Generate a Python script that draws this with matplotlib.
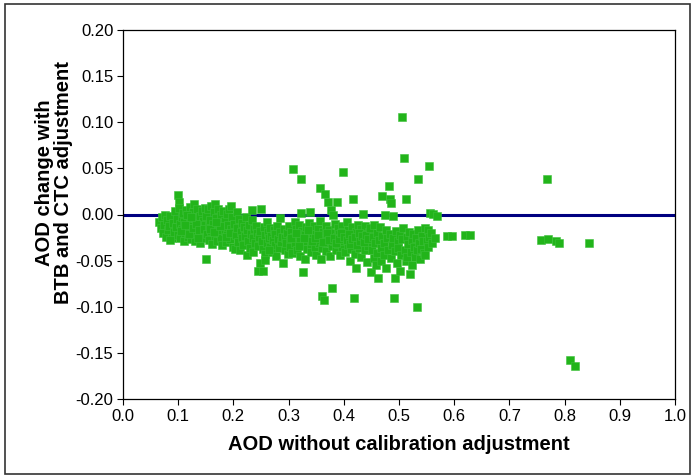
import matplotlib
matplotlib.use("Agg")
import matplotlib.pyplot as plt
from matplotlib.patches import Rectangle

plt.rcParams['font.family'] = ['Liberation Sans', 'DejaVu Sans']

# Dense cluster, low AOD (0.065 - 0.20)
aod_low = [0.066, 0.068, 0.070, 0.072, 0.074, 0.076, 0.078, 0.080, 0.082, 0.084, 0.086, 0.088,
           0.090, 0.092, 0.094, 0.096, 0.098, 0.099, 0.085,
           0.100, 0.101, 0.102, 0.103, 0.104, 0.106, 0.107, 0.108, 0.110, 0.111, 0.112, 0.114,
           0.115, 0.117, 0.118, 0.120, 0.121, 0.122, 0.124, 0.125, 0.127, 0.128, 0.129, 0.130,
           0.131, 0.133, 0.134, 0.136, 0.137, 0.139, 0.140, 0.141, 0.143, 0.144, 0.145, 0.147,
           0.148, 0.149, 0.150, 0.105, 0.113, 0.119, 0.126, 0.132, 0.138, 0.146, 0.116, 0.123, 0.135,
           0.151, 0.152, 0.154, 0.155, 0.156, 0.158, 0.159, 0.160, 0.162, 0.163, 0.164, 0.166,
           0.167, 0.168, 0.170, 0.171, 0.173, 0.174, 0.175, 0.177, 0.178, 0.180, 0.181, 0.182,
           0.184, 0.185, 0.187, 0.188, 0.189, 0.191, 0.192, 0.194, 0.195, 0.196, 0.198, 0.199,
           0.157, 0.165, 0.176, 0.186, 0.193, 0.169]
chg_low = [-0.008, -0.015, -0.003, -0.020, -0.011, 0.000, -0.024, -0.006, -0.017, -0.012, -0.002, -0.026,
           -0.009, -0.019, 0.004, -0.014, -0.005, -0.022, -0.028,
           0.021, 0.014, 0.007, -0.010, -0.025, -0.003, -0.016, 0.002, -0.029, -0.008, -0.020, 0.005,
           -0.013, -0.024, -0.001, -0.017, 0.008, -0.007, -0.027, -0.012, 0.003, -0.020, 0.011, -0.004,
           -0.029, -0.015, 0.006, -0.009, -0.022, -0.002, -0.031, -0.014, 0.004, -0.019, -0.007, -0.025,
           0.007, -0.011, -0.048, -0.018, -0.011, -0.021, -0.015, -0.010, -0.017, -0.016, 0.000, -0.003, -0.026,
           -0.002, -0.021, 0.006, -0.013, -0.028, -0.006, 0.009, -0.018, -0.032, -0.010, 0.003, -0.023,
           0.011, -0.004, -0.015, -0.029, 0.006, -0.009, -0.020, -0.001, -0.026, -0.033, -0.012, 0.004,
           -0.018, -0.007, -0.030, 0.001, -0.022, -0.011, 0.006, -0.027, -0.016, 0.009, -0.003, -0.035,
           -0.016, -0.019, -0.013, -0.024, -0.020, -0.008]

# Cluster, AOD 0.20 - 0.30
aod_mid = [0.201, 0.203, 0.204, 0.206, 0.207, 0.209, 0.210, 0.212, 0.213, 0.215, 0.216, 0.218,
           0.219, 0.221, 0.222, 0.224, 0.225, 0.227, 0.228, 0.230, 0.231, 0.233, 0.234, 0.235,
           0.236, 0.238, 0.239, 0.241, 0.242, 0.244, 0.245, 0.246, 0.248, 0.249, 0.250, 0.252,
           0.253, 0.254, 0.255, 0.257, 0.258, 0.260, 0.261, 0.263, 0.264, 0.266, 0.267, 0.269,
           0.270, 0.272, 0.273, 0.275, 0.276, 0.278, 0.279, 0.281, 0.282, 0.284, 0.285, 0.287,
           0.288, 0.290, 0.291, 0.293, 0.294, 0.296, 0.297, 0.299, 0.257, 0.265]
chg_mid = [-0.010, -0.037, -0.022, 0.003, -0.015, -0.030, -0.005, -0.038, -0.019, -0.026, -0.009, -0.033,
           -0.014, -0.023, -0.003, -0.044, -0.017, -0.029, -0.011, -0.036, -0.021, -0.006, 0.005, -0.041,
           -0.025, -0.016, -0.031, -0.012, -0.020, -0.034, -0.061, -0.024, -0.053, -0.018, 0.006, -0.029,
           -0.037, -0.061, -0.014, -0.022, -0.043, -0.008, -0.031, -0.019, -0.026, -0.035, -0.015, -0.023,
           -0.041, -0.028, -0.017, -0.033, -0.021, -0.045, -0.012, -0.027, -0.036, -0.004, -0.019, -0.030,
           -0.024, -0.053, -0.016, -0.038, -0.025, -0.031, -0.020, -0.043, -0.049, -0.039]

# Cluster, AOD 0.30 - 0.45
aod_high = [0.300, 0.302, 0.303, 0.305, 0.306, 0.308, 0.309, 0.311, 0.312, 0.314, 0.315, 0.317,
            0.318, 0.320, 0.321, 0.322, 0.323, 0.324, 0.326, 0.327, 0.329, 0.330, 0.331, 0.333,
            0.334, 0.336, 0.337, 0.339, 0.340, 0.341, 0.343, 0.344, 0.346, 0.347, 0.349, 0.350,
            0.352, 0.353, 0.355, 0.356, 0.357, 0.358, 0.359, 0.360, 0.361, 0.362, 0.364, 0.365,
            0.366, 0.367, 0.368, 0.370, 0.371, 0.372, 0.373, 0.375, 0.376, 0.377, 0.378, 0.379,
            0.380, 0.381, 0.383, 0.384, 0.386, 0.387, 0.388, 0.389, 0.390, 0.392, 0.393, 0.394,
            0.396, 0.397, 0.398, 0.399, 0.401, 0.402, 0.404, 0.405, 0.407, 0.408, 0.410, 0.411,
            0.413, 0.414, 0.416, 0.417, 0.418, 0.419, 0.420, 0.422, 0.423, 0.425, 0.426, 0.428,
            0.429, 0.431, 0.432, 0.434, 0.435, 0.436, 0.438, 0.439, 0.441, 0.442, 0.444, 0.445, 0.447,
            0.304, 0.313, 0.319, 0.328, 0.335, 0.342, 0.348, 0.354, 0.363, 0.369, 0.374, 0.382,
            0.385, 0.391, 0.395, 0.400, 0.406, 0.409, 0.412, 0.415, 0.421, 0.424, 0.427, 0.430,
            0.433, 0.437, 0.440, 0.443]
chg_high = [-0.012, -0.028, -0.035, -0.019, -0.042, 0.049, -0.024, -0.008, -0.031, -0.016, -0.039, -0.022,
            -0.011, -0.027, -0.045, 0.039, 0.002, -0.018, -0.062, -0.033, -0.021, -0.048, -0.014, -0.029,
            -0.037, -0.023, -0.009, 0.003, -0.032, -0.041, -0.018, -0.026, -0.013, -0.035, -0.021, -0.044,
            -0.028, -0.016, -0.031, -0.007, 0.029, -0.048, -0.024, -0.088, -0.036, -0.019, -0.093, -0.027,
            0.022, -0.012, -0.040, -0.023, -0.031, 0.014, -0.017, -0.045, -0.026, 0.005, -0.034, -0.080,
            0.000, -0.020, -0.029, -0.010, -0.038, -0.024, 0.014, -0.015, -0.032, -0.021, -0.044, -0.027,
            -0.012, -0.035, 0.046, -0.019, -0.029, -0.041, -0.023, -0.008, -0.033, -0.017, -0.026, -0.050,
            -0.037, -0.014, -0.022, 0.017, -0.091, -0.030, -0.043, -0.058, -0.019, -0.027, -0.011, -0.036,
            -0.024, -0.046, -0.016, -0.031, 0.001, -0.021, -0.039, -0.013, -0.028, -0.052, -0.034, -0.019, -0.025,
            -0.025, -0.020, -0.034, -0.026, -0.017, -0.029, -0.025, -0.022, -0.030, -0.020, -0.028, -0.025,
            -0.031, -0.027, -0.020, -0.024, -0.028, -0.021, -0.032, -0.027, -0.024, -0.033, -0.020, -0.029,
            -0.023, -0.030, -0.022, -0.027]

# Cluster, AOD 0.45 - 0.57
aod_upper = [0.448, 0.450, 0.451, 0.452, 0.454, 0.455, 0.457, 0.458, 0.460, 0.461, 0.462, 0.464,
             0.465, 0.467, 0.468, 0.469, 0.470, 0.472, 0.473, 0.474, 0.476, 0.477, 0.479, 0.480,
             0.482, 0.483, 0.484, 0.485, 0.486, 0.487, 0.489, 0.490, 0.491, 0.492, 0.493, 0.495,
             0.496, 0.498, 0.499, 0.501, 0.502, 0.504, 0.505, 0.506, 0.508, 0.509, 0.510, 0.512,
             0.513, 0.514, 0.515, 0.517, 0.518, 0.520, 0.521, 0.523, 0.524, 0.526, 0.527, 0.529,
             0.530, 0.532, 0.533, 0.534, 0.535, 0.537, 0.538, 0.540, 0.541, 0.543, 0.545, 0.547,
             0.548, 0.550, 0.552, 0.553, 0.554, 0.555, 0.556, 0.558, 0.560, 0.562, 0.565, 0.569]
chg_upper = [-0.015, -0.062, -0.038, -0.024, -0.047, -0.011, -0.031, -0.055, -0.020, -0.042, -0.069, -0.028,
             -0.014, -0.036, -0.050, 0.020, -0.023, -0.044, -0.031, 0.000, -0.017, -0.058, -0.026, -0.039,
             0.031, -0.021, 0.017, 0.012, -0.047, -0.033, -0.002, -0.025, -0.091, -0.069, -0.040, -0.018,
             -0.053, -0.029, -0.036, -0.022, -0.061, -0.044, 0.106, -0.027, -0.015, 0.061, -0.038, -0.050,
             0.017, -0.024, -0.046, -0.032, -0.019, -0.064, -0.041, -0.028, -0.055, -0.021, -0.035, -0.046,
             -0.026, -0.039, -0.100, 0.038, -0.017, -0.031, -0.048, -0.037, -0.023, -0.029, -0.042, -0.044,
             -0.015, -0.029, -0.035, -0.017, 0.053, -0.024, 0.002, -0.020, -0.031, 0.001, -0.025, -0.002]

# Sparse high-AOD points
aod_sparse = [0.587, 0.596, 0.620, 0.628, 0.757, 0.768, 0.770, 0.785, 0.790, 0.845, 0.810, 0.819]
chg_sparse = [-0.023, -0.023, -0.022, -0.022, -0.028, 0.038, -0.027, -0.029, -0.031, -0.031, -0.158, -0.164]

x_ticks = [0.0, 0.1, 0.2, 0.3, 0.4, 0.5, 0.6, 0.7, 0.8, 0.9, 1.0]
y_ticks = [-0.20, -0.15, -0.10, -0.05, 0.00, 0.05, 0.10, 0.15, 0.20]

fig = plt.figure(figsize=(6.96, 4.76), dpi=100)
ax = fig.add_axes([123/696, 1 - 399/476, (675 - 123)/696, (399 - 30)/476])

ax.axhline(0.0, color='#000080', lw=2.2, zorder=1)

green = '#22B41A'
for xs, ys in [(aod_low, chg_low), (aod_mid, chg_mid), (aod_high, chg_high),
               (aod_upper, chg_upper), (aod_sparse, chg_sparse)]:
    ax.plot(xs, ys, linestyle='none', marker='s', markersize=5.2,
            markerfacecolor=green, markeredgecolor='#3cc03a', markeredgewidth=0.4, zorder=2)

ax.set_xlim(0, 1.0)
ax.set_ylim(-0.2, 0.2)
ax.set_xticks(x_ticks)
ax.set_xticklabels([f"{v:.1f}" for v in x_ticks])
ax.set_yticks(y_ticks)
ax.set_yticklabels([f"{v:.2f}" for v in y_ticks])
ax.tick_params(axis='both', direction='out', length=4, width=0.8, labelsize=12, pad=3)
for s in ax.spines.values():
    s.set_linewidth(0.9)
    s.set_color('black')

ax.set_xlabel('AOD without calibration adjustment', fontsize=14.5, fontweight='bold', labelpad=8)
fig.text(54/696, 1 - 183/476, 'AOD change with\nBTB and CTC adjustment', rotation=90,
         ha='center', va='center', fontsize=14.5, fontweight='bold', multialignment='center',
         linespacing=0.95)

fig.patches.append(Rectangle((5/696, 1 - 474/476), (690 - 5)/696, (474 - 4)/476,
                             transform=fig.transFigure, fill=False, edgecolor='#333333', lw=1.2))

fig.savefig('out.png', dpi=100)
